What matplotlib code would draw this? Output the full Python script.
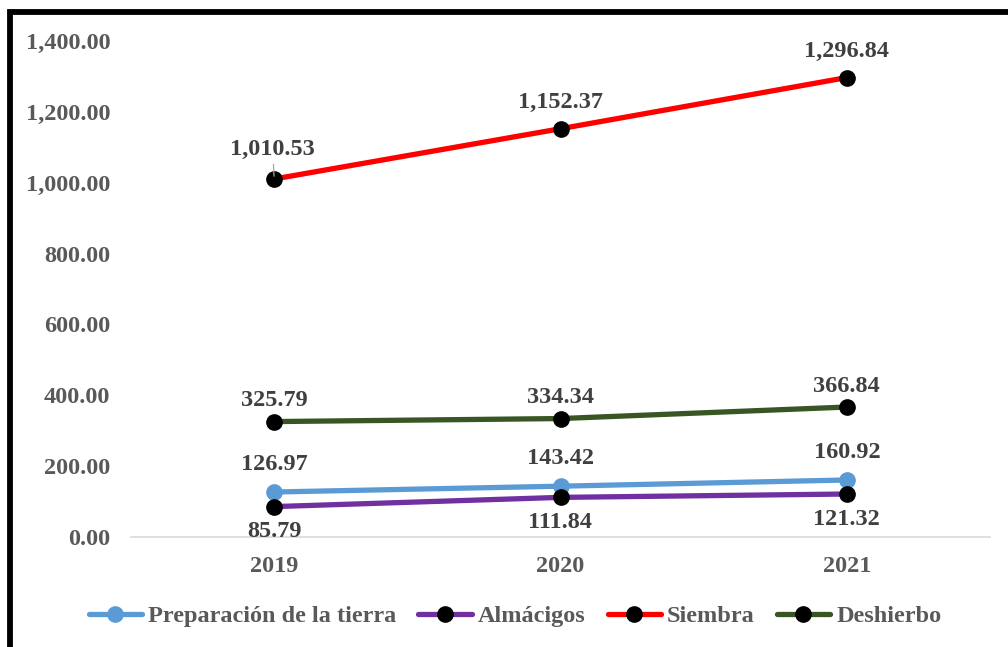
import matplotlib.pyplot as plt
from matplotlib.patches import Rectangle
import numpy as np

years = ['2019', '2020', '2021']
preparacion = [126.97, 143.42, 160.92]
almacigos = [85.79, 111.84, 121.32]
siembra = [1010.53, 1152.37, 1296.84]
deshierbo = [325.79, 334.34, 366.84]

plt.rcParams['font.family'] = ['Liberation Serif', 'DejaVu Serif']
plt.rcParams['font.weight'] = 'bold'

fig = plt.figure(figsize=(10.08, 6.47), dpi=100)
ax = fig.add_axes([131/1008, 1-537/647, (990-131)/1008, (537-41)/647])

x = np.arange(len(years))
series = [
    ('Preparación de la tierra', preparacion, '#5B9BD5', '#5B9BD5', 20),
    ('Almácigos', almacigos, '#7030A0', 'black', -18),
    ('Siembra', siembra, '#FF0000', 'black', 19),
    ('Deshierbo', deshierbo, '#375623', 'black', 15),
]

for name, vals, col, mcol, off in series:
    ax.plot(x, vals, '-o', color=col, lw=3.8, markersize=11,
            markerfacecolor=mcol, markeredgecolor=mcol, label=name,
            solid_capstyle='round', zorder=3)
    for i, v in enumerate(vals):
        if name == 'Siembra' and i == 0:
            # label pushed up with a small leader line
            ax.annotate(f'{v:,.2f}', (i, v), xytext=(-1, 21), textcoords='offset points',
                        ha='center', va='center', fontsize=17.5, color='#404040',
                        arrowprops=dict(arrowstyle='-', color='#A6A6A6', lw=0.9,
                                        shrinkA=1, shrinkB=2))
            continue
        ax.annotate(f'{v:,.2f}', (i, v), xytext=(0, off), textcoords='offset points',
                    ha='center', va='center', fontsize=17.5, color='#404040')

ax.set_xlim(-0.5, 2.5)
ax.set_ylim(0, 1400)
ax.set_yticks(np.arange(0, 1401, 200))
ax.set_yticklabels([f'{t:,.2f}' for t in np.arange(0, 1401, 200)])
ax.set_xticks(x)
ax.set_xticklabels(years)
ax.tick_params(length=0, labelsize=17.5, labelcolor='#595959')
ax.tick_params(axis='y', pad=15)
ax.tick_params(axis='x', pad=14)
for s in ['top', 'right', 'left']:
    ax.spines[s].set_visible(False)
ax.spines['bottom'].set_color('#D9D9D9')
ax.spines['bottom'].set_linewidth(1.2)

leg = fig.legend(loc='center', bbox_to_anchor=(515/1008, 1-616/647), ncol=4,
                 frameon=False, fontsize=17.5, handlelength=2.2, handletextpad=0.25,
                 columnspacing=0.9)
for t in leg.get_texts():
    t.set_color('#595959')

fig.patches.append(Rectangle((9.5/1008, -0.5), 2, 0.5 + 1 - 12/647,
                             transform=fig.transFigure, fill=False,
                             edgecolor='black', lw=4.2, zorder=10))

fig.savefig('out.png', dpi=100)
